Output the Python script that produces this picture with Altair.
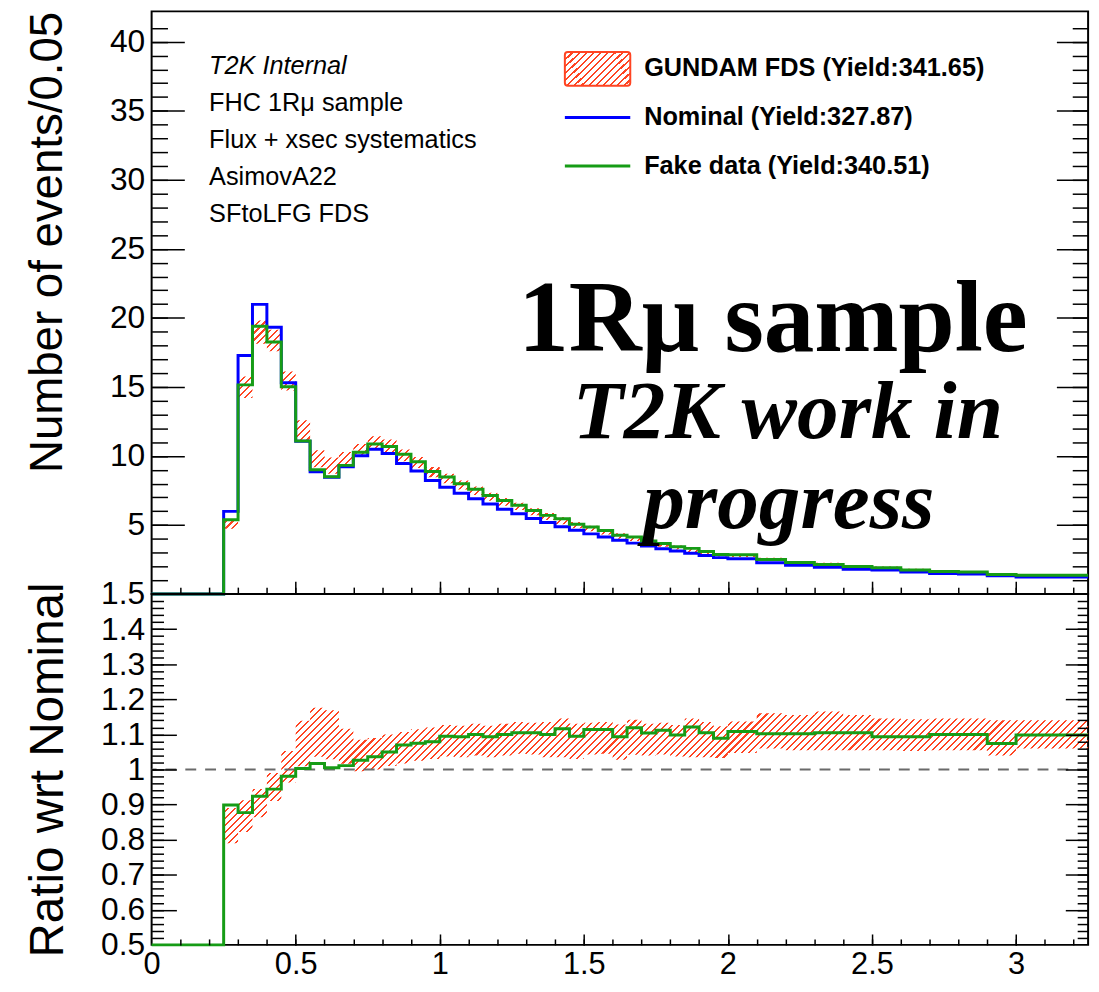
import altair as alt
import numpy as np
import pandas as pd

# ---------------- data ----------------
edges = [0.00, 0.25, 0.30, 0.35, 0.40, 0.45, 0.50, 0.55, 0.60, 0.65, 0.70, 0.75, 0.80, 0.85, 0.90, 0.95,
         1.00, 1.05, 1.10, 1.15, 1.20, 1.25, 1.30, 1.35, 1.40, 1.45, 1.50, 1.55, 1.60, 1.65, 1.70, 1.75,
         1.80, 1.85, 1.90, 1.95, 2.00, 2.10, 2.20, 2.30, 2.40, 2.50, 2.60, 2.70, 2.80, 2.90, 3.00, 3.25]

nominal = [0.00, 5.99, 17.28, 20.98, 19.33, 15.31, 11.06, 8.86, 8.46, 9.22, 10.01, 10.49, 10.18, 9.46,
           8.91, 8.22, 7.74, 7.31, 6.90, 6.53, 6.15, 5.82, 5.48, 5.18, 4.88, 4.62, 4.36, 4.13, 3.90,
           3.69, 3.48, 3.29, 3.12, 2.95, 2.79, 2.64, 2.56, 2.27, 2.08, 1.95, 1.80, 1.74, 1.60, 1.49,
           1.45, 1.32, 1.24]

fake_data = [0.00, 5.39, 15.15, 19.39, 18.25, 15.02, 11.09, 9.01, 8.50, 9.32, 10.27, 10.87, 10.69, 10.12,
             9.58, 8.87, 8.48, 7.99, 7.59, 7.14, 6.77, 6.43, 6.06, 5.70, 5.45, 5.06, 4.86, 4.60, 4.26,
             4.13, 3.84, 3.66, 3.43, 3.31, 3.08, 2.87, 2.84, 2.50, 2.29, 2.15, 1.99, 1.90, 1.75, 1.64,
             1.60, 1.42, 1.36]

ratio_fake = [0.000, 0.899, 0.877, 0.924, 0.944, 0.981, 1.003, 1.017, 1.005, 1.011, 1.026, 1.036, 1.050,
              1.070, 1.075, 1.079, 1.095, 1.093, 1.100, 1.093, 1.100, 1.105, 1.105, 1.100, 1.116, 1.095,
              1.114, 1.114, 1.093, 1.119, 1.104, 1.112, 1.098, 1.121, 1.105, 1.089, 1.108, 1.102, 1.102,
              1.105, 1.105, 1.093, 1.093, 1.100, 1.100, 1.074, 1.098]

# GUNDAM FDS band (ratio to nominal): centre and half width, bins from 0.25 on
band_ratio = [0.840, 0.867, 0.904, 0.950, 1.008, 1.074, 1.106, 1.099, 1.066, 1.040, 1.045, 1.055, 1.062,
              1.070, 1.075, 1.082, 1.080, 1.085, 1.080, 1.085, 1.090, 1.088, 1.085, 1.090, 1.080, 1.088,
              1.090, 1.078, 1.092, 1.085, 1.088, 1.082, 1.090, 1.085, 1.078, 1.092, 1.110, 1.105, 1.110,
              1.105, 1.100, 1.098, 1.100, 1.100, 1.090, 1.100]
band_err = [0.050, 0.045, 0.040, 0.040, 0.045, 0.065, 0.070, 0.070, 0.050, 0.045, 0.045, 0.045, 0.045,
            0.045, 0.045, 0.045, 0.045, 0.045, 0.045, 0.045, 0.045, 0.045, 0.050, 0.055, 0.050, 0.045,
            0.045, 0.050, 0.050, 0.045, 0.045, 0.045, 0.055, 0.050, 0.045, 0.045, 0.050, 0.050, 0.055,
            0.050, 0.045, 0.045, 0.045, 0.045, 0.050, 0.040]

info_lines = ["T2K Internal", "FHC 1Rμ sample", "Flux + xsec systematics", "AsimovA22", "SFtoLFG FDS"]
legend_labels = ["GUNDAM FDS (Yield:341.65)", "Nominal (Yield:327.87)", "Fake data (Yield:340.51)"]

top_y_labels = [5, 10, 15, 20, 25, 30, 35, 40]
ratio_y_labels = [0.5, 0.6, 0.7, 0.8, 0.9, 1.0, 1.1, 1.2, 1.3, 1.4, 1.5]
x_labels = [0, 0.5, 1, 1.5, 2, 2.5, 3]

# ---------------- layout / style ----------------
W, H_TOP, H_BOT = 945, 588, 354
X_MAX, Y_TOP_MAX = 3.25, 42.2
FONT, SERIF = "Liberation Sans", "Liberation Serif"
RED, BLUE, GREEN = "#ff4422", "#0000ff", "#169c16"

# step-histogram tables (last point repeats the last bin to close it at the upper edge)
hist = pd.DataFrame({
    "x": edges,
    "nominal": nominal + [nominal[-1]],
    "fake": fake_data + [fake_data[-1]],
    "ratio": ratio_fake + [ratio_fake[-1]],
})
bc = np.array(band_ratio + [band_ratio[-1]])
be = np.array(band_err + [band_err[-1]])
nom_b = np.array(nominal[1:] + [nominal[-1]])
band = pd.DataFrame({
    "x": edges[1:],
    "r_lo": bc - be,
    "r_hi": bc + be,
    "t_lo": nom_b * (bc - be),
    "t_hi": nom_b * (bc + be),
})
one = pd.DataFrame({"a": [0]})


def hatch(w, h, period=7.0, duty=0.3):
    """diagonal hatch as a striped linear gradient over the mark's bounding box"""
    r = h / w
    a = (1 + r) / (1 + r * r)
    n = max(1, int(round((w + h) / period)))
    clear = "rgba(255,68,34,0)"
    stops = []
    for i in range(n):
        t0, t1, t2 = i / n, (i + duty) / n, (i + 1) / n
        stops += [alt.GradientStop(color=RED, offset=t0), alt.GradientStop(color=RED, offset=t1),
                  alt.GradientStop(color=clear, offset=t1), alt.GradientStop(color=clear, offset=t2)]
    return alt.LinearGradient(gradient="linear", stops=stops, x1=0, y1=0, x2=a, y2=a * r)


def tick_axis(orient, values, size):
    # inward ticks: axis line moved inside the frame, ticks pointing back to the frame
    return alt.Axis(orient=orient, values=values, tickSize=size, offset=-size, labels=False,
                    domain=False, grid=False, title=None, tickColor="black", tickWidth=1.5,
                    minExtent=0, maxExtent=0, zindex=1)


xs = alt.Scale(domain=[0, X_MAX], nice=False, zero=False)
ys_top = alt.Scale(domain=[0, Y_TOP_MAX], nice=False, zero=False)
ys_bot = alt.Scale(domain=[0.5, 1.5], nice=False, zero=False, clamp=True)

x_major = [0.5, 1.0, 1.5, 2.0, 2.5, 3.0]
x_minor = [round(0.1 * i, 1) for i in range(1, 33)]
top_major = top_y_labels
top_minor = list(range(1, 42))
bot_major = [0.6, 0.7, 0.8, 0.9, 1.0, 1.1, 1.2, 1.3, 1.4]
bot_minor = [round(0.5 + 0.02 * i, 2) for i in range(1, 50)]

main_top_y = alt.Axis(orient="left", values=top_y_labels, ticks=False, domain=False, grid=False,
                      labelFont=FONT, labelFontSize=32, labelColor="black", labelPadding=7,
                      minExtent=52, maxExtent=52,
                      title="Number of events/0.05", titleFont=FONT, titleFontSize=46,
                      titleFontWeight="normal", titleColor="black", titleAnchor="end", titlePadding=29)
main_bot_y = alt.Axis(orient="left", values=ratio_y_labels, format="~g", ticks=False, domain=False,
                      grid=False, labelFont=FONT, labelFontSize=32, labelColor="black", labelPadding=7,
                      minExtent=52, maxExtent=52,
                      title="Ratio wrt Nominal", titleFont=FONT, titleFontSize=48,
                      titleFontWeight="normal", titleColor="black", titlePadding=28)
main_bot_x = alt.Axis(orient="bottom", values=x_labels, format="~g", ticks=False, domain=False,
                      grid=False, labelFont=FONT, labelFontSize=31, labelColor="black", labelPadding=5,
                      labelFlush=False, labelOverlap=False, title=None)

# ---------------- top panel ----------------
tw = (X_MAX - edges[1]) * W / X_MAX
th = (band["t_hi"].max() - band["t_lo"].min()) * H_TOP / Y_TOP_MAX
band_top = alt.Chart(band).mark_area(interpolate="step-after", fill=hatch(tw, th)).encode(
    x=alt.X("x:Q", scale=xs, axis=None),
    y=alt.Y("t_lo:Q", scale=ys_top, axis=main_top_y),
    y2="t_hi:Q",
)
nom_line = alt.Chart(hist).mark_line(interpolate="step-after", color=BLUE, strokeWidth=3).encode(
    x=alt.X("x:Q", scale=xs, axis=tick_axis("bottom", x_major, 13)),
    y=alt.Y("nominal:Q", scale=ys_top, axis=tick_axis("left", top_major, 33)),
)
fake_line = alt.Chart(hist).mark_line(interpolate="step-after", color=GREEN, strokeWidth=3).encode(
    x=alt.X("x:Q", scale=xs, axis=tick_axis("bottom", x_minor, 7)),
    y=alt.Y("fake:Q", scale=ys_top, axis=tick_axis("left", top_minor, 16)),
)
ghost_t1 = alt.Chart(hist).mark_line(strokeOpacity=0).encode(
    x=alt.X("x:Q", scale=xs, axis=None),
    y=alt.Y("fake:Q", scale=ys_top, axis=tick_axis("right", top_major, 32)),
)
ghost_t2 = alt.Chart(hist).mark_line(strokeOpacity=0).encode(
    x=alt.X("x:Q", scale=xs, axis=None),
    y=alt.Y("fake:Q", scale=ys_top, axis=tick_axis("right", top_minor, 16)),
)

top_layers = [band_top, nom_line, fake_line, ghost_t1, ghost_t2]

# info text block
for i, line in enumerate(info_lines):
    top_layers.append(alt.Chart(one).mark_text(
        text=line, font=FONT, fontSize=25.5, align="left", baseline="alphabetic", color="black",
        fontStyle="italic" if i == 0 else "normal",
    ).encode(x=alt.value(58), y=alt.value(63 + 37.3 * i)))

# legend
top_layers.append(alt.Chart(one).mark_rect(fill=hatch(66, 35), stroke=RED, strokeWidth=2,
                                           cornerRadius=3).encode(
    x=alt.value(417), x2=alt.value(483), y=alt.value(41), y2=alt.value(75)))
top_layers.append(alt.Chart(one).mark_rule(color=BLUE, strokeWidth=3).encode(
    x=alt.value(417), x2=alt.value(483), y=alt.value(107)))
top_layers.append(alt.Chart(one).mark_rule(color=GREEN, strokeWidth=3).encode(
    x=alt.value(417), x2=alt.value(483), y=alt.value(156)))
for i, lab in enumerate(legend_labels):
    top_layers.append(alt.Chart(one).mark_text(
        text=lab, font=FONT, fontSize=25.5, fontWeight="bold", align="left", baseline="alphabetic",
        color="black").encode(x=alt.value(497), y=alt.value(65 + 49.5 * i)))

# big annotation
top_layers.append(alt.Chart(one).mark_text(
    text="1Rμ sample", font=SERIF, fontSize=102, fontWeight="bold", align="left",
    baseline="alphabetic", color="black").encode(x=alt.value(370), y=alt.value(343)))
top_layers.append(alt.Chart(one).mark_text(
    text="T2K work in", font=SERIF, fontSize=84, fontWeight="bold", fontStyle="italic",
    align="left", baseline="alphabetic", color="black").encode(x=alt.value(425), y=alt.value(431)))
top_layers.append(alt.Chart(one).mark_text(
    text="progress", font=SERIF, fontSize=84, fontWeight="bold", fontStyle="italic",
    align="left", baseline="alphabetic", color="black").encode(x=alt.value(496), y=alt.value(521)))

top = alt.layer(*top_layers).resolve_axis(x="independent", y="independent").properties(
    width=W, height=H_TOP)

# ---------------- ratio panel ----------------
rh = (band["r_hi"].max() - band["r_lo"].min()) * H_BOT / 1.0
band_bot = alt.Chart(band).mark_area(interpolate="step-after", fill=hatch(tw, rh)).encode(
    x=alt.X("x:Q", scale=xs, axis=main_bot_x),
    y=alt.Y("r_lo:Q", scale=ys_bot, axis=main_bot_y),
    y2="r_hi:Q",
)
unity = alt.Chart(one).mark_rule(color="#6a6a6a", strokeDash=[11, 9], strokeWidth=2.2).encode(
    y=alt.Y(datum=1.0, type="quantitative", scale=ys_bot, axis=None))
ratio_line = alt.Chart(hist).mark_line(interpolate="step-after", color=GREEN, strokeWidth=3).encode(
    x=alt.X("x:Q", scale=xs, axis=tick_axis("bottom", x_major, 11)),
    y=alt.Y("ratio:Q", scale=ys_bot, axis=tick_axis("left", bot_major, 25)),
)
ghost_b1 = alt.Chart(hist).mark_line(strokeOpacity=0).encode(
    x=alt.X("x:Q", scale=xs, axis=tick_axis("bottom", x_minor, 6)),
    y=alt.Y("ratio:Q", scale=ys_bot, axis=tick_axis("left", bot_minor, 12)),
)
ghost_b2 = alt.Chart(hist).mark_line(strokeOpacity=0).encode(
    x=alt.X("x:Q", scale=xs, axis=None),
    y=alt.Y("ratio:Q", scale=ys_bot, axis=tick_axis("right", bot_major, 23)),
)
ghost_b3 = alt.Chart(hist).mark_line(strokeOpacity=0).encode(
    x=alt.X("x:Q", scale=xs, axis=None),
    y=alt.Y("ratio:Q", scale=ys_bot, axis=tick_axis("right", bot_minor, 11)),
)
bottom = alt.layer(band_bot, unity, ratio_line, ghost_b1, ghost_b2, ghost_b3).resolve_axis(
    x="independent", y="independent").properties(width=W, height=H_BOT)

chart = alt.vconcat(top, bottom, spacing=0, bounds="flush").properties(
    padding={"left": 23, "right": 4, "top": 5, "bottom": 0},
    background="white",
).configure_view(stroke="black", strokeWidth=2)

chart.save("out.html", embed_options={"renderer": "svg", "actions": False})
